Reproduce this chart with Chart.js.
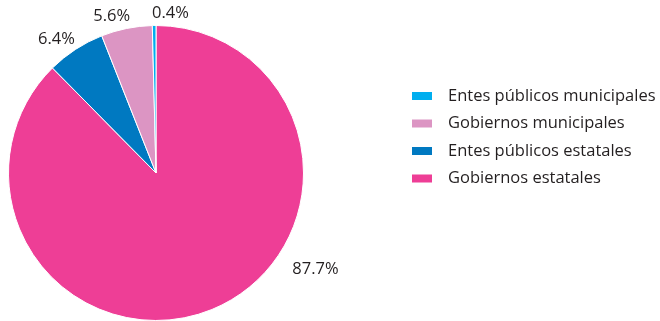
<!DOCTYPE html>
<html>
<head>
<meta charset="utf-8">
<script src="https://cdn.jsdelivr.net/npm/chart.js@4.4.1/dist/chart.umd.min.js"></script>
<style>
  html, body { margin: 0; padding: 0; background: #fff; }
  #wrap { position: relative; width: 660px; height: 321px; }
</style>
</head>
<body>
<div id="wrap"><canvas id="chart"></canvas></div>
<script>
// Slices, clockwise from twelve o'clock
var categories = ['Gobiernos estatales', 'Entes públicos estatales', 'Gobiernos municipales', 'Entes públicos municipales'];
var shares = [87.7, 6.4, 5.6, 0.4];
var shareLabels = ['87.7%', '6.4%', '5.6%', '0.4%'];
var colors = ['#ee3e96', '#0079c1', '#dc95c3', '#00aeef'];

var FONT = '16.5px "Open Sans", "Noto Sans", sans-serif';

// Percentage text just outside each slice
var sliceLabels = {
    id: 'sliceLabels',
    afterDatasetsDraw: function(chart) {
        var ctx = chart.ctx;
        var arcs = chart.getDatasetMeta(0).data;
        ctx.save();
        ctx.font = FONT;
        ctx.fillStyle = '#231f20';
        ctx.textBaseline = 'middle';
        arcs.forEach(function(arc, i) {
            var p = arc.getProps(['x', 'y', 'startAngle', 'endAngle', 'outerRadius'], true);
            var angle = (p.startAngle + p.endAngle) / 2;
            var r = p.outerRadius + 12;
            // the big slice's label sits lower right, where there is room
            if (shares[i] > 50) {
                angle = Math.PI * 0.2;
                r = p.outerRadius + 16;
            }
            var x = p.x + Math.cos(angle) * r;
            var y = p.y + Math.sin(angle) * r;
            var left = Math.cos(angle) >= -0.02;
            ctx.textAlign = left ? 'left' : 'right';
            ctx.fillText(shareLabels[i], x + (left ? (shares[i] > 50 ? 4 : -2) : 6), y);
        });
        ctx.restore();
    }
};

// Legend on the right, listed in reverse slice order
var sideLegend = {
    id: 'sideLegend',
    afterDraw: function(chart) {
        var ctx = chart.ctx;
        ctx.save();
        ctx.font = FONT;
        ctx.textAlign = 'left';
        ctx.textBaseline = 'middle';
        for (var k = 0; k < categories.length; k++) {
            var i = categories.length - 1 - k;
            var y = 96 + k * 27.5;
            ctx.fillStyle = colors[i];
            ctx.fillRect(412, y - 4, 20, 8);
            ctx.fillStyle = '#231f20';
            ctx.fillText(categories[i], 448, y);
        }
        ctx.restore();
    }
};

new Chart(document.getElementById('chart'), {
    type: 'pie',
    data: {
        labels: categories,
        datasets: [{
            data: shares,
            backgroundColor: colors,
            borderColor: '#ffffff',
            borderWidth: 1
        }]
    },
    options: {
        responsive: true,
        maintainAspectRatio: false,
        animation: false,
        events: [],
        layout: { padding: { left: 8, top: 25, right: 356, bottom: 0 } },
        plugins: {
            legend: { display: false },
            tooltip: { enabled: false }
        }
    },
    plugins: [sliceLabels, sideLegend]
});
</script>
</body>
</html>
